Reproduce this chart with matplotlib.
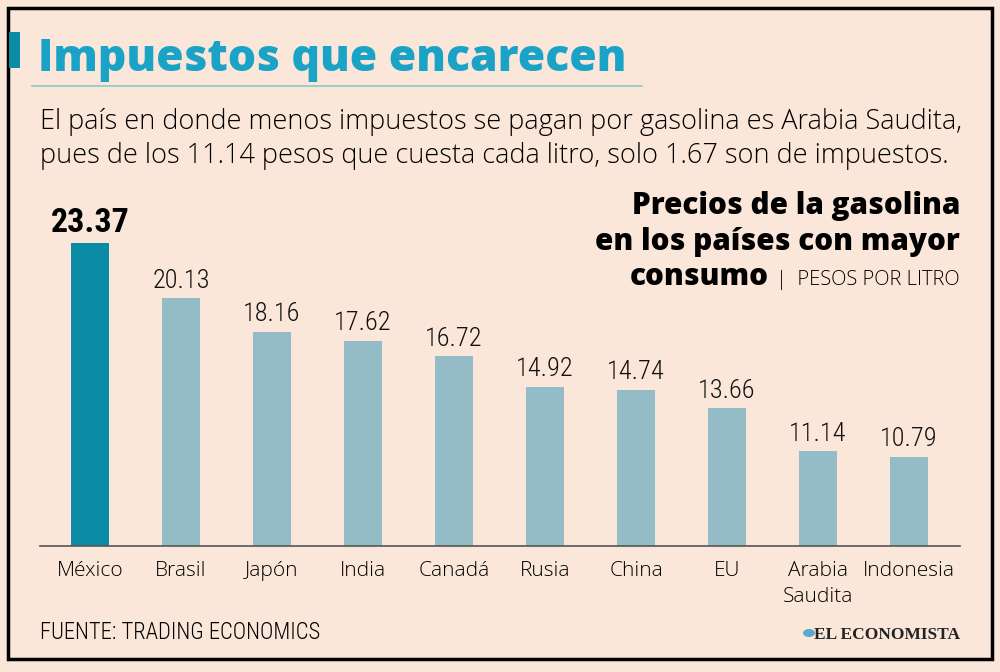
import matplotlib
matplotlib.use("Agg")
import matplotlib.pyplot as plt
from matplotlib.patches import Rectangle, Circle
from matplotlib.lines import Line2D
from matplotlib import font_manager as fm

categories = ["México", "Brasil", "Japón", "India", "Canadá", "Rusia", "China", "EU", "Arabia\nSaudita", "Indonesia"]
values = [23.37, 20.13, 18.16, 17.62, 16.72, 14.92, 14.74, 13.66, 11.14, 10.79]
value_labels = ["23.37", "20.13", "18.16", "17.62", "16.72", "14.92", "14.74", "13.66", "11.14", "10.79"]

BG = "#fbe7da"
DARK = "#0b8ba5"
LIGHT = "#93bcc6"
TITLE_C = "#1aa3c6"

names = {f.name for f in fm.fontManager.ttflist}
cond = [f for f in ["Roboto Condensed", "Liberation Sans Narrow", "Open Sans Condensed"] if f in names]
if cond:
    NUMF = [cond[0], "DejaVu Sans"]
    NUMSIZE, BIGSIZE, FOOTSIZE = 19, 24.5, 16.3
else:
    NUMF = ["Roboto", "DejaVu Sans"]
    NUMSIZE, BIGSIZE, FOOTSIZE = 17, 22, 13.5
LIGHTF = ["Open Sans", "Lato", "DejaVu Sans"]
HEAVYF = ["Open Sans", "Lato", "DejaVu Sans"]

W, H = 1000, 672
fig = plt.figure(figsize=(10, 6.72), dpi=100, facecolor=BG)

def fx(x):
    return x / W

def fy(y):
    return 1 - y / H

# outer frame
fig.add_artist(Rectangle((fx(8), fy(659)), fx(984), (651) / H, transform=fig.transFigure,
                         fill=False, edgecolor="black", linewidth=2.5))

# title marker and title
fig.add_artist(Rectangle((fx(9), fy(68)), fx(11), 36 / H, transform=fig.transFigure,
                         facecolor=DARK, edgecolor="none"))
fig.text(fx(38), fy(71), "Impuestos que encarecen", fontsize=32, fontweight=800,
         color=TITLE_C, family=HEAVYF, ha="left", va="baseline")
fig.add_artist(Line2D([fx(32), fx(642)], [fy(86), fy(86)], transform=fig.transFigure,
                      color="#8cc9c4", linewidth=1.2))

# subtitle
fig.text(fx(40), fy(129), "El país en donde menos impuestos se pagan por gasolina es Arabia Saudita,",
         fontsize=19.55, fontweight="light", family=LIGHTF, color="black", va="baseline")
fig.text(fx(40), fy(163), "pues de los 11.14 pesos que cuesta cada litro, solo 1.67 son de impuestos.",
         fontsize=19.55, fontweight="light", family=LIGHTF, color="black", va="baseline")

# chart title (right)
fig.text(fx(960), fy(214), "Precios de la gasolina", fontsize=21.3, fontweight=800,
         family=HEAVYF, ha="right", va="baseline", color="black")
fig.text(fx(960), fy(250), "en los países con mayor", fontsize=21.3, fontweight=800,
         family=HEAVYF, ha="right", va="baseline", color="black")
t_units = fig.text(fx(960), fy(285), "|  PESOS POR LITRO", fontsize=14.5, fontweight="light",
                   family=LIGHTF, ha="right", va="baseline", color="black")
fig.canvas.draw()
bb = t_units.get_window_extent()
fig.text(bb.x0 / W - fx(8), fy(285), "consumo", fontsize=21.3, fontweight=800,
         family=HEAVYF, ha="right", va="baseline", color="black")

# axes
ax = fig.add_axes([0.04, (H - 546) / H, 0.92, 330.7 / H])
ax.set_facecolor("none")
x = list(range(len(categories)))
colors = [DARK] + [LIGHT] * (len(categories) - 1)
ax.bar(x, values, width=0.42, color=colors, zorder=2)
ax.set_xlim(-0.549, 9.56)
ax.set_ylim(5.56, 25)
for s in ["top", "right", "left"]:
    ax.spines[s].set_visible(False)
ax.spines["bottom"].set_color("#555555")
ax.spines["bottom"].set_linewidth(1.2)
ax.set_yticks([])
ax.set_xticks(x)
ax.set_xticklabels(categories, fontsize=15, fontweight="light", family=LIGHTF,
                   color="black", linespacing=1.35)
ax.tick_params(axis="x", length=0, pad=11)

for i, (v, lab) in enumerate(zip(values, value_labels)):
    if i == 0:
        ax.annotate(lab, (i, v), xytext=(0, 3), textcoords="offset points", ha="center",
                    va="bottom", fontsize=BIGSIZE, fontweight="bold", family=NUMF, color="black")
    else:
        ax.annotate(lab, (i, v), xytext=(0, 4), textcoords="offset points", ha="center",
                    va="bottom", fontsize=NUMSIZE, fontweight="light", family=NUMF, color="#111111")

# footer
fig.text(fx(40), fy(639), "FUENTE: TRADING ECONOMICS", fontsize=FOOTSIZE, family=NUMF,
         fontweight="light", color="black", va="baseline")
fig.text(fx(960), fy(639), "EL ECONOMISTA", fontsize=12.5, fontweight="bold",
         family=["Liberation Serif", "DejaVu Serif"], color="#222222", ha="right", va="baseline")
fig.add_artist(Circle((fx(809), fy(633)), 6.0 / W, transform=fig.transFigure,
                      facecolor="#5aaad0", edgecolor="none"))

fig.savefig("out.png", dpi=100, facecolor=BG)
